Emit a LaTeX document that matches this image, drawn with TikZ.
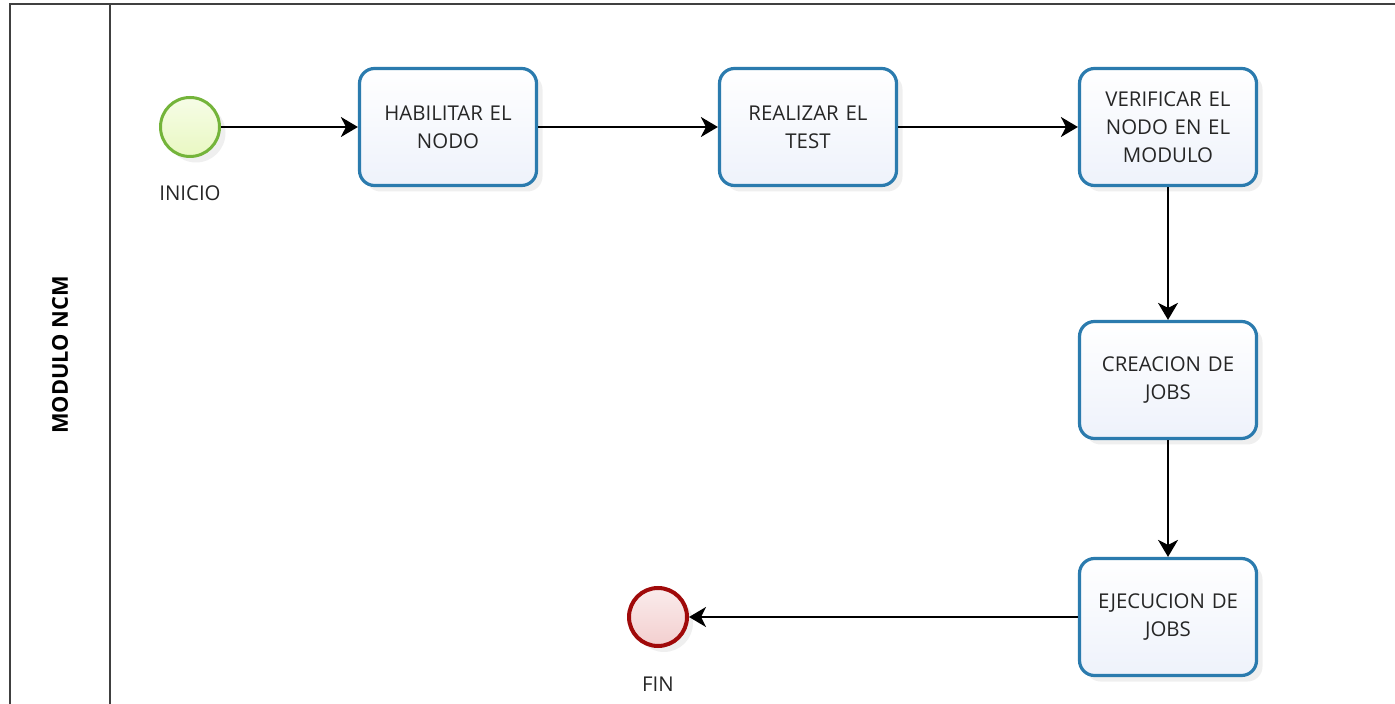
\documentclass[tikz,border=0pt]{standalone}
\usepackage{fontspec}
\setmainfont{Open Sans}
\usepackage{tikz}
\usetikzlibrary{arrows.meta}
\usetikzlibrary{shadows}
\usepackage{xcolor}

\definecolor{taskline}{HTML}{2B7BAE}
\definecolor{taskfill}{HTML}{EEF2FB}
\definecolor{startline}{HTML}{74B43A}
\definecolor{startfill}{HTML}{E9F8C2}
\definecolor{endline}{HTML}{A00A0A}
\definecolor{endfill}{HTML}{F3CFCF}
\definecolor{poolline}{HTML}{404040}

\tikzset{
  task/.style={draw=taskline, line width=1.6pt, rounded corners=7.5pt,
    top color=white, bottom color=taskfill,
    minimum width=88.5pt, minimum height=58.5pt, text width=84pt, inner xsep=1pt,
    align=center, font=\fontsize{10.2}{14}\selectfont, text=black!85,
    drop shadow={opacity=0.12, shadow xshift=3pt, shadow yshift=-3pt}},
  startev/.style={circle, draw=startline, line width=1.5pt, top color=white!60!startfill,
    bottom color=startfill, minimum size=29.5pt, inner sep=0pt,
    drop shadow={opacity=0.12, shadow xshift=3pt, shadow yshift=-3pt}},
  endev/.style={circle, draw=endline, line width=2pt, top color=white!60!endfill,
    bottom color=endfill, minimum size=29pt, inner sep=0pt,
    drop shadow={opacity=0.12, shadow xshift=3pt, shadow yshift=-3pt}},
  evlabel/.style={font=\fontsize{10.2}{12}\selectfont, text=black!85},
  flow/.style={line width=1pt, -{Stealth[length=8.5pt, width=10pt, inset=2.5pt]}}
}

\begin{document}
\begin{tikzpicture}[x=0.5pt, y=-0.5pt]
  \useasboundingbox (0,0) rectangle (1395,704);
  \fill[white] (0,0) rectangle (1395,704);

  % pool and lane header
  \draw[poolline, line width=1.1pt] (10,704) -- (10,4) -- (1395,4);
  \draw[poolline, line width=1.1pt] (110,4) -- (110,704);
  \node[rotate=90, font=\fontsize{10.9}{13}\selectfont\bfseries] (lane) at (60,355) {MODULO NCM};

  % events
  \node[startev] (inicio) at (190,127) {};
  \node[evlabel] (inicio-txt) at (190,193) {INICIO};
  \node[endev] (fin) at (658,617) {};
  \node[evlabel] (fin-txt) at (658,684) {FIN};

  % tasks
  \node[task] (habilitar) at (448,127) {HABILITAR EL\\NODO};
  \node[task] (realizar) at (808,127) {REALIZAR EL\\TEST};
  \node[task] (verificar) at (1168,127) {VERIFICAR EL\\NODO EN EL\\MODULO};
  \node[task] (creacion) at (1168,380) {CREACION DE\\JOBS};
  \node[task] (ejecucion) at (1168,617) {EJECUCION DE\\JOBS};

  % sequence flows
  \draw[flow] (inicio) -- (habilitar);
  \draw[flow] (habilitar) -- (realizar);
  \draw[flow] (realizar) -- (verificar);
  \draw[flow] (verificar) -- (creacion);
  \draw[flow] (creacion) -- (ejecucion);
  \draw[flow] (ejecucion) -- (fin);

\end{tikzpicture}
\end{document}
